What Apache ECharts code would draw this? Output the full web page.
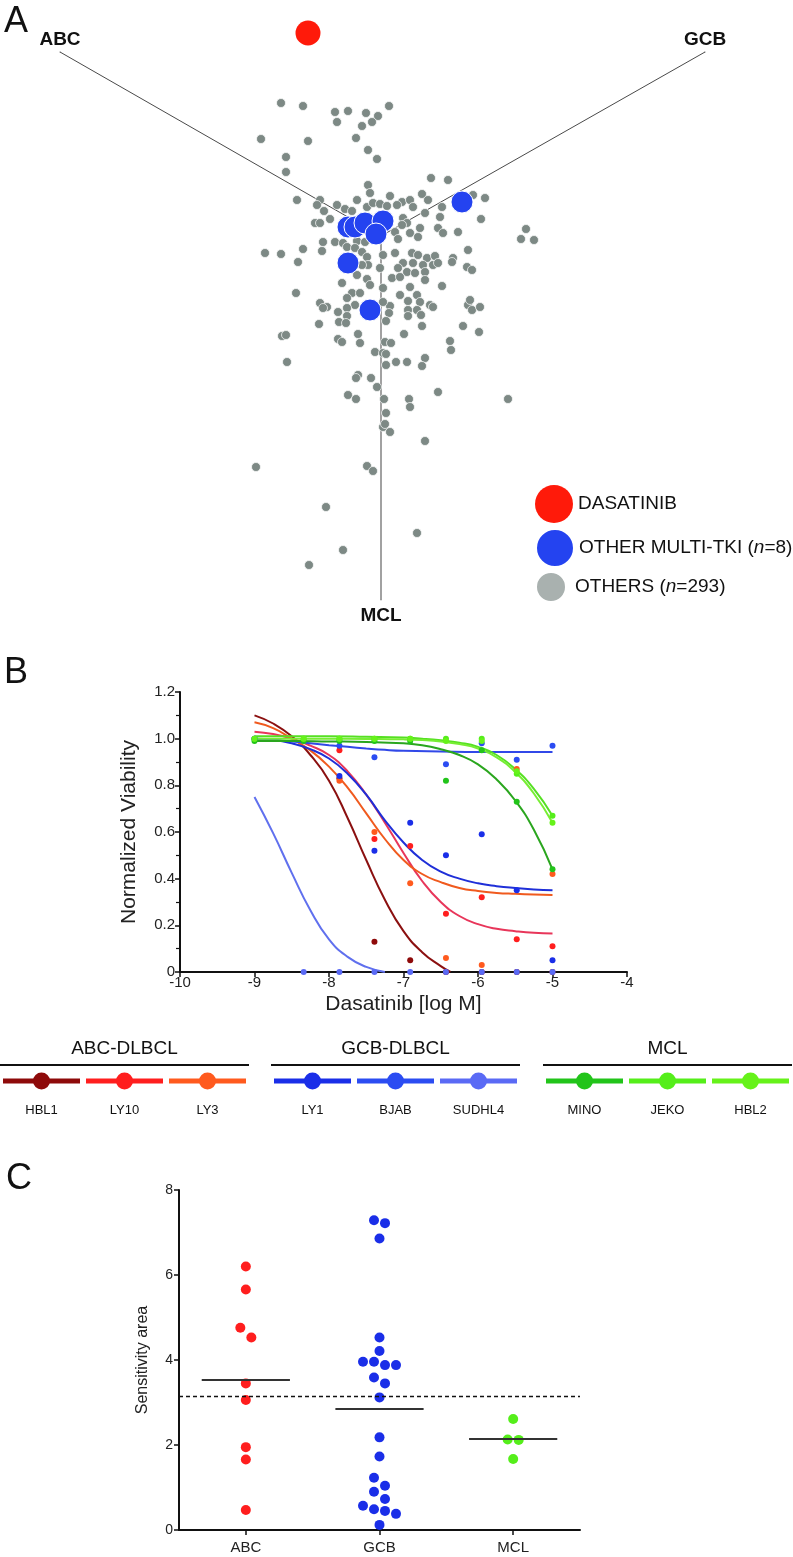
<!DOCTYPE html>
<html>
<head>
<meta charset="utf-8">
<script src="https://cdn.jsdelivr.net/npm/echarts@6/dist/echarts.min.js"></script>
<style>
html,body{margin:0;padding:0;background:#ffffff;}
#chart{width:793px;height:1557px;}
</style>
</head>
<body>
<div id="chart"></div>
<script>
// ---------------- Panel A data (projection units, centre of the three axes = 0,0) ----------------
const projectionAxes = ['ABC', 'GCB', 'MCL'];
const projectionAxisEnds = [[-32.1, 18.4], [32.4, 18.4], [0, -36.4]];
const dasatinibPoint = [[-7.3, 20.3]];
const multiTkiPoints = [[-3.3, 0.9], [-2.6, 0.9], [-1.6, 1.3], [0.2, 1.5], [-0.5, 0.2], [-3.3, -2.7], [8.1, 3.4], [-1.1, -7.4]];
const otherCompoundPoints = [
  [-10.0, 13.3], [-7.8, 13.0], [-4.6, 12.4], [-3.3, 12.5], [-1.5, 12.3], [-0.3, 12.0], [0.8, 13.0], [-4.4, 11.4], [-0.9, 11.4], [-1.9, 11.0],
  [-12.0, 9.7], [-7.3, 9.5], [-2.5, 9.8], [-1.3, 8.6], [-9.5, 7.9], [-0.4, 7.7], [-9.5, 6.4], [5.0, 5.8], [6.7, 5.6],
  [-1.3, 5.1], [-1.1, 4.3], [-8.4, 3.6], [-6.1, 3.6], [-2.4, 3.6], [0.9, 4.0], [2.1, 3.4], [2.9, 3.6], [4.1, 4.2], [4.7, 3.6], [9.2, 4.1], [10.4, 3.8],
  [-6.4, 3.1], [-5.7, 2.5], [-4.4, 3.1], [-3.6, 2.7], [-2.9, 2.5], [-1.4, 2.9], [-0.8, 3.3], [-0.1, 3.2], [0.6, 3.0], [1.6, 3.1], [3.2, 2.9], [4.4, 2.3], [6.1, 2.9],
  [10.0, 1.7], [5.9, 1.9], [-6.6, 1.3], [-6.1, 1.3], [-5.1, 1.7], [2.2, 1.8], [2.6, 1.3], [2.1, 1.1], [3.9, 0.8], [5.7, 0.8], [6.2, 0.3], [7.7, 0.4], [1.4, 0.4], [2.9, 0.3], [3.7, -0.1],
  [-4.6, -0.6], [-5.8, -0.6], [-3.8, -0.7], [-2.4, -0.5], [-1.6, -0.6], [1.7, -0.3], [-7.8, -1.3], [-5.9, -1.5], [-3.4, -1.1], [-2.6, -1.2], [-1.9, -1.6], [0.2, -1.9], [1.4, -1.7], [3.1, -1.7], [3.7, -1.9], [4.6, -2.2], [5.4, -2.0], [7.2, -2.2], [8.7, -1.4],
  [-8.3, -2.6], [-1.4, -2.1], [2.2, -2.7], [3.2, -2.7], [4.2, -2.9], [5.2, -2.9], [5.7, -2.7], [7.1, -2.6], [8.6, -3.1], [-1.3, -2.9], [-1.9, -2.9], [-0.1, -3.2], [1.7, -3.2], [2.6, -3.6], [3.4, -3.7], [4.4, -3.6], [9.1, -3.4],
  [-2.4, -3.9], [1.1, -4.2], [1.9, -4.1], [4.4, -4.4], [-3.9, -4.7], [-1.4, -4.3], [-1.1, -4.9], [0.2, -5.2], [2.9, -5.1], [6.1, -5.0], [-8.5, -5.7], [-2.9, -5.7], [-2.1, -5.7], [1.9, -5.9], [3.6, -5.9], [-3.4, -6.2], [-6.1, -6.7], [2.7, -6.5], [3.9, -6.6], [4.9, -6.9], [0.9, -7.0], [-5.4, -7.1], [-2.6, -6.9], [8.7, -6.9],
  [14.5, 0.7], [14.0, -0.3], [15.3, -0.4], [-11.6, -1.7], [-10.0, -1.8],
  [-5.8, -7.2], [-4.3, -7.6], [-3.4, -7.2], [-3.4, -8.0], [0.2, -6.6], [0.8, -7.7], [0.5, -8.5], [2.7, -7.4], [2.7, -8.0], [3.6, -7.4], [4.0, -7.9], [5.2, -7.1], [8.9, -6.4], [9.1, -7.4], [9.9, -7.1],
  [-6.2, -8.8], [-4.2, -8.6], [-3.5, -8.7], [4.1, -9.0], [8.2, -9.0], [9.8, -9.6], [-9.9, -10.0], [-9.5, -9.9], [-2.3, -9.8], [2.3, -9.8], [-4.3, -10.3], [-3.9, -10.6], [-2.1, -10.7], [0.4, -10.6], [1.0, -10.7], [6.9, -10.5], [7.0, -11.4],
  [-0.6, -11.6], [0.2, -11.7], [0.5, -11.8], [-9.4, -12.6], [0.5, -12.9], [1.5, -12.6], [2.6, -12.6], [4.4, -12.2], [4.1, -13.0], [-2.3, -13.9], [-2.5, -14.2], [-1.0, -14.2], [-0.4, -15.1], [5.7, -15.6], [-3.3, -15.9], [-2.5, -16.3], [0.3, -16.3], [2.8, -16.3], [2.9, -17.1], [12.7, -16.3], [0.5, -17.7], [0.2, -19.1], [0.4, -18.8], [0.9, -19.6], [4.4, -20.5],
  [-12.5, -23.1], [-1.4, -23.0], [-0.8, -23.5], [-5.5, -27.1], [3.6, -29.7], [-3.8, -31.4], [-7.2, -32.9]
];
const panelALegendNames = ['DASATINIB', 'OTHER MULTI-TKI (n=8)', 'OTHERS (n=293)'];

// ---------------- Panel B data ----------------
const logConcentrations = [-9, -8.34, -7.86, -7.39, -6.91, -6.43, -5.95, -5.48, -5];
const cellLines = ['HBL1', 'LY10', 'LY3', 'LY1', 'BJAB', 'SUDHL4', 'MINO', 'JEKO', 'HBL2'];
const cellLineGroups = ['ABC-DLBCL', 'GCB-DLBCL', 'MCL'];
const viabilityHBL1 = [null, null, 0.83, 0.13, 0.05, 0.00, 0.00, 0.00, 0.00];
const viabilityLY10 = [null, null, 0.95, 0.57, 0.54, 0.25, 0.32, 0.14, 0.11];
const viabilityLY3 = [null, null, 0.82, 0.60, 0.38, 0.06, 0.03, 0.87, 0.42];
const viabilityLY1 = [1.00, null, 0.84, 0.52, 0.64, 0.50, 0.59, 0.35, 0.05];
const viabilityBJAB = [1.00, null, 0.97, 0.92, null, 0.89, 0.98, 0.91, 0.97];
const viabilitySUDHL4 = [null, 0.00, 0.00, 0.00, 0.00, 0.00, 0.00, 0.00, 0.00];
const viabilityMINO = [0.99, 0.99, 0.99, 0.99, 0.99, 0.82, 0.95, 0.73, 0.44];
const viabilityJEKO = [1.00, 1.00, 1.00, 1.00, 1.00, 1.00, 1.00, 0.85, 0.67];
const viabilityHBL2 = [1.00, 1.00, 1.00, 1.00, 1.00, 0.99, 0.99, 0.86, 0.64];
// fitted curves as [log M, viability]
const fitHBL1 = [[-9, 1.10], [-8.75, 1.065], [-8.5, 1.01], [-8.25, 0.93], [-8, 0.82], [-7.75, 0.66], [-7.5, 0.48], [-7.25, 0.31], [-7, 0.175], [-6.75, 0.085], [-6.5, 0.025], [-6.37, 0]];
const fitLY10 = [[-9, 1.03], [-8.75, 1.02], [-8.5, 1.00], [-8.25, 0.97], [-8, 0.93], [-7.75, 0.86], [-7.5, 0.76], [-7.25, 0.64], [-7, 0.51], [-6.75, 0.39], [-6.5, 0.30], [-6.25, 0.24], [-6, 0.205], [-5.75, 0.185], [-5.5, 0.175], [-5.25, 0.168], [-5, 0.165]];
const fitLY3 = [[-9, 1.07], [-8.75, 1.045], [-8.5, 1.00], [-8.25, 0.95], [-8, 0.88], [-7.75, 0.79], [-7.5, 0.68], [-7.25, 0.57], [-7, 0.48], [-6.75, 0.42], [-6.5, 0.385], [-6.25, 0.36], [-6, 0.347], [-5.75, 0.339], [-5.5, 0.335], [-5.25, 0.332], [-5, 0.33]];
const fitLY1 = [[-9, 1.00], [-8.75, 0.995], [-8.5, 0.98], [-8.25, 0.955], [-8, 0.915], [-7.75, 0.85], [-7.5, 0.76], [-7.25, 0.65], [-7, 0.555], [-6.75, 0.48], [-6.5, 0.43], [-6.25, 0.40], [-6, 0.38], [-5.75, 0.368], [-5.5, 0.36], [-5.25, 0.354], [-5, 0.35]];
const fitBJAB = [[-9, 1.00], [-8.75, 0.995], [-8.5, 0.988], [-8.25, 0.98], [-8, 0.972], [-7.75, 0.965], [-7.5, 0.958], [-7.25, 0.952], [-7, 0.948], [-6.5, 0.945], [-6, 0.943], [-5.5, 0.943], [-5, 0.943]];
const fitSUDHL4 = [[-9, 0.75], [-8.75, 0.595], [-8.5, 0.425], [-8.25, 0.265], [-8, 0.14], [-7.75, 0.065], [-7.5, 0.022], [-7.25, 0]];
const fitMINO = [[-9, 0.99], [-8.5, 0.99], [-8, 0.988], [-7.5, 0.986], [-7, 0.98], [-6.75, 0.972], [-6.5, 0.955], [-6.25, 0.93], [-6, 0.89], [-5.75, 0.825], [-5.5, 0.735], [-5.25, 0.61], [-5, 0.44]];
const fitJEKO = [[-9, 1.01], [-8.5, 1.01], [-8, 1.01], [-7.5, 1.008], [-7, 1.005], [-6.75, 1.0], [-6.5, 0.993], [-6.25, 0.983], [-6, 0.965], [-5.75, 0.93], [-5.5, 0.87], [-5.25, 0.785], [-5, 0.67]];
const fitHBL2 = [[-9, 1.00], [-8.5, 1.00], [-8, 1.00], [-7.5, 0.999], [-7, 0.997], [-6.75, 0.994], [-6.5, 0.988], [-6.25, 0.977], [-6, 0.958], [-5.75, 0.92], [-5.5, 0.857], [-5.25, 0.765], [-5, 0.64]];

// ---------------- Panel C data ----------------
const subtypes = ['ABC', 'GCB', 'MCL'];
const sensitivityABC = [6.20, 5.66, 4.76, 4.53, 3.45, 3.06, 1.95, 1.66, 0.47];
const sensitivityGCB = [7.29, 7.22, 6.86, 4.53, 4.21, 3.96, 3.96, 3.88, 3.88, 3.59, 3.45, 3.12, 2.18, 1.73, 1.23, 1.04, 0.90, 0.73, 0.57, 0.49, 0.45, 0.38, 0.12];
const sensitivityMCL = [2.61, 2.13, 2.12, 1.67];
const subtypeMeans = [3.53, 2.86, 2.14];
const sensitivityThreshold = 3.14;

// ---------------- styles ----------------
const FONT = 'Liberation Sans, Arial, Helvetica, sans-serif';
const pointColors = ['#8e0a0a', '#ff1e1e', '#ff5a1e', '#1a2ee8', '#2b4cf2', '#5a6af5', '#22c41a', '#55ee1a', '#66f21a'];
const curveColors = ['#8b1010', '#e8365a', '#f05a1e', '#1f2fd8', '#3148e8', '#6070ee', '#2aa61e', '#55e022', '#77ee33'];
const viabilitySets = [viabilityHBL1, viabilityLY10, viabilityLY3, viabilityLY1, viabilityBJAB, viabilitySUDHL4, viabilityMINO, viabilityJEKO, viabilityHBL2];
const fitSets = [fitHBL1, fitLY10, fitLY3, fitLY1, fitBJAB, fitSUDHL4, fitMINO, fitJEKO, fitHBL2];
const subtypeColors = ['#ff1e1e', '#1a2ee8', '#55ee1a'];
const sensitivitySets = [sensitivityABC, sensitivityGCB, sensitivityMCL];

const gridA = {left: 0, top: 0, width: 793, height: 650};
const gridB = {left: 180, top: 692, width: 447, height: 280};
const gridC = {left: 179, top: 1190, width: 401, height: 340};

// column-scatter layout (rows of overlapping points are spread symmetrically)
const cPointDiameter = 11;
const cRowTolerance = 0.24;
const cOffsetStep = cPointDiameter / (gridC.width / subtypes.length);
function columnScatter(values, index) {
  const sorted = values.slice().sort((a, b) => b - a);
  const rows = [];
  sorted.forEach(v => {
    const row = rows[rows.length - 1];
    if (row && row[0] - v <= cRowTolerance + 1e-9) row.push(v); else rows.push([v]);
  });
  const out = [];
  rows.forEach(row => row.forEach((v, k) => out.push([index + (k - (row.length - 1) / 2) * cOffsetStep, v])));
  return out;
}

const series = [];

// Panel A: three projection axes
const axisLineColors = ['#4a4a4a', '#4a4a4a', '#8a8a8a'];
const axisLineWidths = [1, 1, 1.6];
const axisLabelPositions = ['top', 'top', 'bottom'];
projectionAxes.forEach((name, i) => {
  series.push({
    type: 'line', xAxisIndex: 0, yAxisIndex: 0, silent: true, z: 1,
    symbol: 'circle', symbolSize: 1, showSymbol: true,
    itemStyle: {color: axisLineColors[i]},
    lineStyle: {color: axisLineColors[i], width: axisLineWidths[i]},
    emphasis: {disabled: true},
    data: [[0, 0], {
      value: projectionAxisEnds[i],
      label: {show: true, position: axisLabelPositions[i], distance: i === 2 ? 6 : 2, formatter: name,
        fontFamily: FONT, fontWeight: 'bold', fontSize: 19, color: '#111'}
    }]
  });
});
series.push({
  name: panelALegendNames[2], type: 'scatter', xAxisIndex: 0, yAxisIndex: 0, z: 3,
  symbolSize: 9, itemStyle: {color: '#7d8985', borderColor: '#ffffff', borderWidth: 0.7, opacity: 1},
  data: otherCompoundPoints
});
series.push({
  name: panelALegendNames[1], type: 'scatter', xAxisIndex: 0, yAxisIndex: 0, z: 4,
  symbolSize: 22, itemStyle: {color: '#2443f0', borderColor: '#ffffff', borderWidth: 1, opacity: 1},
  data: multiTkiPoints
});
series.push({
  name: panelALegendNames[0], type: 'scatter', xAxisIndex: 0, yAxisIndex: 0, z: 5,
  symbolSize: 25, itemStyle: {color: '#ff1a0a', opacity: 1},
  data: dasatinibPoint
});

// Panel B: fitted curves and measured points
cellLines.forEach((name, i) => {
  series.push({
    name: name + ' fit', type: 'line', xAxisIndex: 1, yAxisIndex: 1, silent: true, z: 2,
    smooth: 0.5, showSymbol: false, symbol: 'none',
    lineStyle: {color: curveColors[i], width: 2},
    data: fitSets[i]
  });
});
cellLines.forEach((name, i) => {
  const pts = [];
  logConcentrations.forEach((x, k) => { if (viabilitySets[i][k] !== null) pts.push([x, viabilitySets[i][k]]); });
  series.push({
    name: name, type: 'scatter', xAxisIndex: 1, yAxisIndex: 1, z: 3,
    symbolSize: 6, itemStyle: {color: pointColors[i], opacity: 1},
    data: pts
  });
});

// Panel C: column scatter with means
subtypes.forEach((name, i) => {
  series.push({
    name: name + ' sensitivity', type: 'scatter', xAxisIndex: 3, yAxisIndex: 2, z: 3,
    symbolSize: 10, itemStyle: {color: subtypeColors[i], opacity: 1},
    data: columnScatter(sensitivitySets[i], i),
    markLine: {
      silent: true, symbol: ['none', 'none'], label: {show: false},
      lineStyle: {color: '#333333', width: 2, type: 'solid'},
      data: [[{coord: [i - 0.33, subtypeMeans[i]]}, {coord: [i + 0.33, subtypeMeans[i]]}]]
    }
  });
});
series.push({
  name: 'threshold', type: 'line', xAxisIndex: 3, yAxisIndex: 2, data: [], silent: true,
  markLine: {
    silent: true, symbol: ['none', 'none'], label: {show: false},
    lineStyle: {color: '#111111', width: 1.3, type: [4, 3]},
    data: [{yAxis: sensitivityThreshold}]
  }
});

// Panel B legend strip (graphic)
const stripGroupLeft = [0, 271, 543];
const stripGroupWidth = 249;
const stripTitleY = 1049, stripRuleY = 1065, stripItemY = 1081, stripLabelY = 1110;
const stripElements = [];
cellLineGroups.forEach((g, gi) => {
  const gl = stripGroupLeft[gi];
  stripElements.push({type: 'text', x: gl + stripGroupWidth / 2, y: stripTitleY, silent: true,
    style: {text: g, fill: '#111', fontSize: 19, fontFamily: FONT, align: 'center', verticalAlign: 'middle'}});
  stripElements.push({type: 'line', silent: true, shape: {x1: gl, y1: stripRuleY, x2: gl + stripGroupWidth, y2: stripRuleY},
    style: {stroke: '#111', lineWidth: 2}});
});
cellLines.forEach((name, i) => {
  const gi = Math.floor(i / 3), k = i % 3;
  const cell = stripGroupWidth / 3;
  const cx = stripGroupLeft[gi] + cell * (k + 0.5);
  stripElements.push({type: 'line', silent: true, shape: {x1: cx - cell / 2 + 3, y1: stripItemY, x2: cx + cell / 2 - 3, y2: stripItemY},
    style: {stroke: pointColors[i], lineWidth: 5}});
  stripElements.push({type: 'circle', silent: true, shape: {cx: cx, cy: stripItemY, r: 8.5}, style: {fill: pointColors[i]}});
  stripElements.push({type: 'text', x: cx, y: stripLabelY, silent: true,
    style: {text: name, fill: '#111', fontSize: 13, fontFamily: FONT, align: 'center', verticalAlign: 'middle'}});
});

const legendRich = {t: {fontSize: 19, fontFamily: FONT, color: '#111'}, i: {fontSize: 19, fontFamily: FONT, color: '#111', fontStyle: 'italic'}};
function legendFormatter(name) {
  const m = name.match(/^(.*\()n(=.*)$/);
  if (!m) return '{t|' + name + '}';
  return '{t|' + m[1] + '}{i|n}{t|' + m[2] + '}';
}
const legendTops = [485, 528, 571];
const legendSizes = [[38, 38], [38, 38], [38, 30]];
const legendIconColors = ['#ff1a0a', '#2443f0', '#a9b1af'];

const axisTextB = {color: '#222', fontSize: 15, fontFamily: FONT};
const option = {
  animation: false,
  backgroundColor: '#ffffff',
  title: [
    {text: 'A', left: 4, top: 4, padding: 0, textStyle: {fontSize: 36, fontWeight: 'normal', fontFamily: FONT, color: '#111'}},
    {text: 'B', left: 4, top: 655, padding: 0, textStyle: {fontSize: 36, fontWeight: 'normal', fontFamily: FONT, color: '#111'}},
    {text: 'C', left: 6, top: 1161, padding: 0, textStyle: {fontSize: 36, fontWeight: 'normal', fontFamily: FONT, color: '#111'}}
  ],
  legend: panelALegendNames.map((n, i) => ({
    data: [{name: n, icon: 'circle', itemStyle: {color: legendIconColors[i]}}],
    left: 535, top: legendTops[i], orient: 'vertical', padding: 0,
    itemWidth: legendSizes[i][0], itemHeight: legendSizes[i][1], selectedMode: false,
    formatter: legendFormatter,
    textStyle: {rich: legendRich, fontSize: 19, fontFamily: FONT, color: '#111'}
  })),
  grid: [
    Object.assign({outerBoundsMode: 'none', containLabel: false}, gridA),
    Object.assign({outerBoundsMode: 'none', containLabel: false}, gridB),
    Object.assign({outerBoundsMode: 'none', containLabel: false}, gridC)
  ],
  xAxis: [
    {gridIndex: 0, type: 'value', min: -38.1, max: 41.2, show: false},
    {gridIndex: 1, type: 'value', min: -10, max: -4, interval: 1,
      name: 'Dasatinib [log M]', nameLocation: 'middle', nameGap: 22,
      nameTextStyle: {fontSize: 21, fontFamily: FONT, color: '#222'},
      axisLine: {show: true, onZero: false, lineStyle: {color: '#111', width: 2}},
      axisTick: {show: true, inside: false, length: 5, lineStyle: {color: '#111', width: 1.5}},
      splitLine: {show: false},
      axisLabel: Object.assign({margin: 3}, axisTextB)},
    {gridIndex: 2, type: 'category', data: subtypes, boundaryGap: true,
      axisLine: {show: true, onZero: false, lineStyle: {color: '#111', width: 2}},
      axisTick: {show: true, alignWithLabel: true, inside: false, length: 5, lineStyle: {color: '#111', width: 1.5}},
      splitLine: {show: false},
      axisLabel: {margin: 10, color: '#222', fontSize: 15, fontFamily: FONT}},
    {gridIndex: 2, type: 'value', min: -0.5, max: 2.5, show: false}
  ],
  yAxis: [
    {gridIndex: 0, type: 'value', min: -41.4, max: 23.6, show: false},
    {gridIndex: 1, type: 'value', min: 0, max: 1.2, interval: 0.2,
      name: 'Normalized Viability', nameLocation: 'middle', nameGap: 40,
      nameTextStyle: {fontSize: 21, fontFamily: FONT, color: '#222'},
      axisLine: {show: true, onZero: false, lineStyle: {color: '#111', width: 2}},
      axisTick: {show: true, inside: false, length: 5, lineStyle: {color: '#111', width: 1.5}},
      minorTick: {show: true, splitNumber: 2, length: 4, lineStyle: {color: '#111', width: 1.2}},
      splitLine: {show: false}, minorSplitLine: {show: false},
      axisLabel: Object.assign({margin: 5, formatter: v => (v === 0 ? '0' : v.toFixed(1))}, axisTextB)},
    {gridIndex: 2, type: 'value', min: 0, max: 8, interval: 2,
      name: 'Sensitivity area', nameLocation: 'middle', nameGap: 28,
      nameTextStyle: {fontSize: 16, fontFamily: FONT, color: '#222'},
      axisLine: {show: true, onZero: false, lineStyle: {color: '#111', width: 2}},
      axisTick: {show: true, inside: false, length: 5, lineStyle: {color: '#111', width: 1.5}},
      splitLine: {show: false},
      axisLabel: {margin: 6, color: '#222', fontSize: 14, fontFamily: 'Liberation Sans Narrow, Liberation Sans, Arial, sans-serif'}}
  ],
  graphic: {elements: stripElements},
  series: series
};

const chart = echarts.init(document.getElementById('chart'), null, {renderer: 'canvas', width: 793, height: 1557});
chart.setOption(option);
</script>
</body>
</html>
